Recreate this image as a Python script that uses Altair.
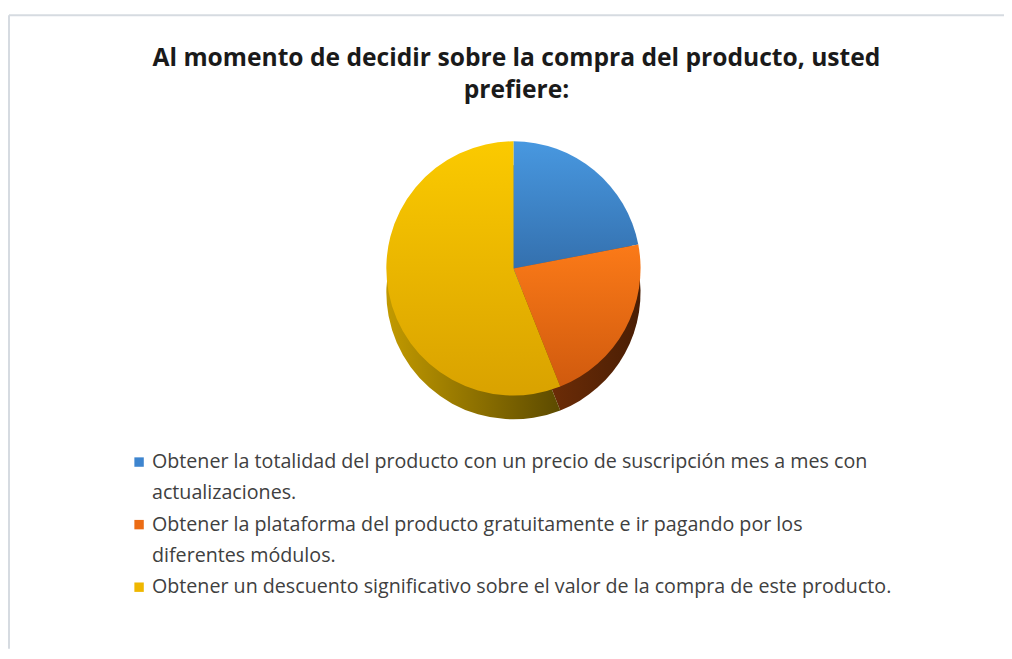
import altair as alt
import pandas as pd

title_lines = ["Al momento de decidir sobre la compra del producto, usted", "prefiere:"]

categories = [
    "Obtener la totalidad del producto con un precio de suscripción mes a mes con actualizaciones.",
    "Obtener la plataforma del producto gratuitamente e ir pagando por los diferentes módulos.",
    "Obtener un descuento significativo sobre el valor de la compra de este producto.",
]
values = [22, 22, 56]

legend_lines = [
    ["Obtener la totalidad del producto con un precio de suscripción mes a mes con", "actualizaciones."],
    ["Obtener la plataforma del producto gratuitamente e ir pagando por los", "diferentes módulos."],
    ["Obtener un descuento significativo sobre el valor de la compra de este producto."],
]

colors = ["#3e85cf", "#ec6c14", "#efb700"]
top_stops = [("#4898e0", "#3470ae"), ("#fb7a18", "#d05a0e"), ("#fbca00", "#d9a200")]
side_stops = [("#2b5a8a", "#1d3d60"), ("#7a3208", "#4a1e04"), ("#c29a00", "#5c4a00")]

total = sum(values)
pie_df = pd.DataFrame({"category": categories, "value": values, "order": list(range(len(values)))})

rows = []
r = 0
for i, lines in enumerate(legend_lines):
    for j, line in enumerate(lines):
        rows.append({"row": r, "text": line, "first": j == 0, "category": categories[i]})
        r += 1
leg_df = pd.DataFrame(rows)

W, H = 1002, 638
CX, CY, R, DEPTH = 508, 255, 128, 24

base = (
    alt.Chart(pie_df)
    .transform_window(end="sum(value)", sort=[alt.SortField("order")], frame=[None, 0])
    .transform_calculate(start="datum.end - datum.value")
)

theta_scale = alt.Scale(domain=[0, total])


def grad(c1, c2, horizontal=False):
    return alt.Gradient(
        gradient="linear",
        stops=[alt.GradientStop(color=c1, offset=0), alt.GradientStop(color=c2, offset=1)],
        x1=0, y1=0, x2=1 if horizontal else 0, y2=0 if horizontal else 1,
    )


layers = []
for i in range(len(values)):
    layers.append(
        base.transform_filter(alt.datum.order == i)
        .mark_arc(radius=R, fill=grad(*side_stops[i], horizontal=True))
        .encode(
            theta=alt.Theta("start:Q", scale=theta_scale),
            theta2="end:Q",
            x=alt.value(CX),
            y=alt.value(CY + DEPTH),
        )
    )
for i in range(len(values)):
    layers.append(
        base.transform_filter(alt.datum.order == i)
        .mark_arc(radius=R, fill=grad(*top_stops[i]))
        .encode(
            theta=alt.Theta("start:Q", scale=theta_scale),
            theta2="end:Q",
            x=alt.value(CX),
            y=alt.value(CY),
        )
    )

yscale = alt.Scale(domain=[0, len(rows) - 1], range=[450, 576])

squares = (
    alt.Chart(leg_df)
    .transform_filter(alt.datum.first)
    .mark_square(size=90, opacity=1)
    .encode(
        x=alt.value(131),
        y=alt.Y("row:Q", scale=yscale, axis=None),
        color=alt.Color("category:N", scale=alt.Scale(domain=categories, range=colors), legend=None),
    )
)

texts = (
    alt.Chart(leg_df)
    .mark_text(align="left", baseline="middle", font="Open Sans", fontSize=19.8, color="#404040")
    .encode(
        x=alt.value(144),
        y=alt.Y("row:Q", scale=yscale, axis=None),
        text="text:N",
    )
)

frame_df = pd.DataFrame({"k": [0]})
border_top = alt.Chart(frame_df).mark_rule(color="#d6dbe1", strokeWidth=2).encode(
    x=alt.value(0), x2=alt.value(W), y=alt.value(0)
)
border_left = alt.Chart(frame_df).mark_rule(color="#d6dbe1", strokeWidth=2).encode(
    x=alt.value(0), y=alt.value(0), y2=alt.value(H)
)

chart = (
    alt.layer(border_top, border_left, *layers, squares, texts)
    .properties(
        width=W,
        height=H,
        autosize=alt.AutoSizeParams(type="none"),
        padding={"left": 1, "top": 5, "right": 0, "bottom": 0},
        title=alt.TitleParams(
            text=title_lines,
            anchor="start",
            font="Open Sans",
            fontSize=24.8,
            fontWeight="bold",
            color="#1a1a1a",
            baseline="top",
            align="center",
            offset=0,
            dy=89,
            dx=512,
            lineHeight=32,
        ),
        background="white",
    )
    .configure_view(stroke=None)
)

chart.save("out.html", embed_options={"renderer": "svg", "actions": False})
